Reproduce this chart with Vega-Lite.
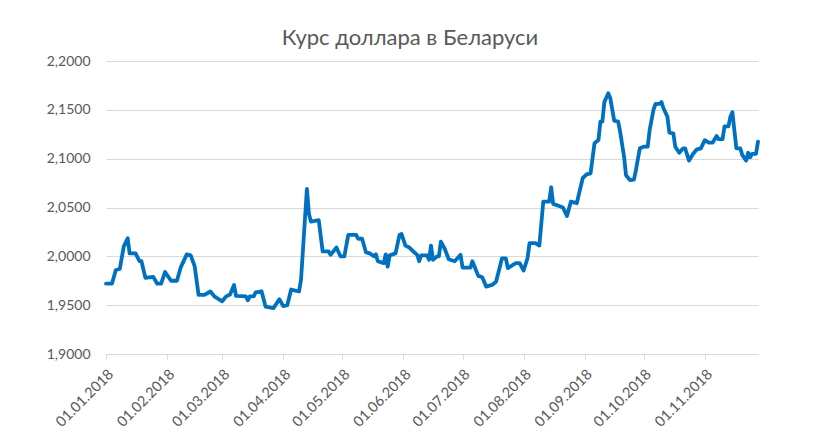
{
  "$schema": "https://vega.github.io/schema/vega-lite/v6.json",
  "autosize": {"type": "none"},
  "width": 652,
  "height": 293,
  "padding": {"left": 106, "top": 61, "right": 62, "bottom": 86},
  "background": "white",
  "title": {
    "text": "Курс доллара в Беларуси",
    "anchor": "middle",
    "frame": "group",
    "dx": -22,
    "dy": 31,
    "offset": 18,
    "baseline": "alphabetic",
    "font": "Lato",
    "fontSize": 22,
    "fontWeight": "normal",
    "color": "#595959"
  },
  "data": {
    "values": [
      {"date": "2018-01-01", "rate": 1.972},
      {"date": "2018-01-04", "rate": 1.972},
      {"date": "2018-01-06", "rate": 1.986},
      {"date": "2018-01-08", "rate": 1.987},
      {"date": "2018-01-10", "rate": 2.010},
      {"date": "2018-01-12", "rate": 2.0185},
      {"date": "2018-01-13", "rate": 2.003},
      {"date": "2018-01-16", "rate": 2.003},
      {"date": "2018-01-18", "rate": 1.995},
      {"date": "2018-01-19", "rate": 1.995},
      {"date": "2018-01-21", "rate": 1.978},
      {"date": "2018-01-25", "rate": 1.979},
      {"date": "2018-01-27", "rate": 1.972},
      {"date": "2018-01-29", "rate": 1.972},
      {"date": "2018-01-31", "rate": 1.984},
      {"date": "2018-02-03", "rate": 1.975},
      {"date": "2018-02-06", "rate": 1.975},
      {"date": "2018-02-08", "rate": 1.989},
      {"date": "2018-02-11", "rate": 2.002},
      {"date": "2018-02-13", "rate": 2.001},
      {"date": "2018-02-15", "rate": 1.990},
      {"date": "2018-02-17", "rate": 1.9605},
      {"date": "2018-02-20", "rate": 1.9605},
      {"date": "2018-02-23", "rate": 1.964},
      {"date": "2018-02-25", "rate": 1.959},
      {"date": "2018-03-01", "rate": 1.954},
      {"date": "2018-03-03", "rate": 1.959},
      {"date": "2018-03-05", "rate": 1.961},
      {"date": "2018-03-07", "rate": 1.9707},
      {"date": "2018-03-08", "rate": 1.9595},
      {"date": "2018-03-13", "rate": 1.959},
      {"date": "2018-03-14", "rate": 1.955},
      {"date": "2018-03-15", "rate": 1.959},
      {"date": "2018-03-17", "rate": 1.959},
      {"date": "2018-03-18", "rate": 1.963},
      {"date": "2018-03-21", "rate": 1.964},
      {"date": "2018-03-23", "rate": 1.9485},
      {"date": "2018-03-27", "rate": 1.947},
      {"date": "2018-03-30", "rate": 1.956},
      {"date": "2018-04-01", "rate": 1.949},
      {"date": "2018-04-03", "rate": 1.950},
      {"date": "2018-04-05", "rate": 1.966},
      {"date": "2018-04-09", "rate": 1.964},
      {"date": "2018-04-10", "rate": 1.976},
      {"date": "2018-04-13", "rate": 2.069},
      {"date": "2018-04-14", "rate": 2.044},
      {"date": "2018-04-15", "rate": 2.0355},
      {"date": "2018-04-19", "rate": 2.037},
      {"date": "2018-04-21", "rate": 2.005},
      {"date": "2018-04-24", "rate": 2.005},
      {"date": "2018-04-25", "rate": 2.0015},
      {"date": "2018-04-28", "rate": 2.009},
      {"date": "2018-04-30", "rate": 2.000},
      {"date": "2018-05-02", "rate": 2.000},
      {"date": "2018-05-04", "rate": 2.022},
      {"date": "2018-05-08", "rate": 2.022},
      {"date": "2018-05-09", "rate": 2.018},
      {"date": "2018-05-11", "rate": 2.018},
      {"date": "2018-05-13", "rate": 2.004},
      {"date": "2018-05-15", "rate": 2.003},
      {"date": "2018-05-17", "rate": 2.000},
      {"date": "2018-05-18", "rate": 2.002},
      {"date": "2018-05-19", "rate": 1.995},
      {"date": "2018-05-22", "rate": 1.993},
      {"date": "2018-05-23", "rate": 2.002},
      {"date": "2018-05-24", "rate": 1.9895},
      {"date": "2018-05-25", "rate": 2.001},
      {"date": "2018-05-28", "rate": 2.003},
      {"date": "2018-05-30", "rate": 2.022},
      {"date": "2018-05-31", "rate": 2.023},
      {"date": "2018-06-02", "rate": 2.011},
      {"date": "2018-06-04", "rate": 2.009},
      {"date": "2018-06-06", "rate": 2.005},
      {"date": "2018-06-08", "rate": 2.0015},
      {"date": "2018-06-09", "rate": 1.995},
      {"date": "2018-06-10", "rate": 2.001},
      {"date": "2018-06-13", "rate": 2.001},
      {"date": "2018-06-14", "rate": 1.9965},
      {"date": "2018-06-15", "rate": 2.011},
      {"date": "2018-06-16", "rate": 1.9965},
      {"date": "2018-06-18", "rate": 2.000},
      {"date": "2018-06-19", "rate": 2.000},
      {"date": "2018-06-20", "rate": 2.015},
      {"date": "2018-06-22", "rate": 2.0075},
      {"date": "2018-06-24", "rate": 1.997},
      {"date": "2018-06-27", "rate": 1.995},
      {"date": "2018-06-30", "rate": 2.0015},
      {"date": "2018-07-01", "rate": 1.9885},
      {"date": "2018-07-05", "rate": 1.9885},
      {"date": "2018-07-06", "rate": 1.995},
      {"date": "2018-07-09", "rate": 1.980},
      {"date": "2018-07-11", "rate": 1.9785},
      {"date": "2018-07-13", "rate": 1.969},
      {"date": "2018-07-16", "rate": 1.9707},
      {"date": "2018-07-18", "rate": 1.974},
      {"date": "2018-07-20", "rate": 1.9895},
      {"date": "2018-07-21", "rate": 1.998},
      {"date": "2018-07-23", "rate": 1.998},
      {"date": "2018-07-24", "rate": 1.988},
      {"date": "2018-07-28", "rate": 1.993},
      {"date": "2018-07-30", "rate": 1.993},
      {"date": "2018-08-01", "rate": 1.9855},
      {"date": "2018-08-03", "rate": 1.998},
      {"date": "2018-08-04", "rate": 2.0135},
      {"date": "2018-08-07", "rate": 2.0135},
      {"date": "2018-08-09", "rate": 2.011},
      {"date": "2018-08-11", "rate": 2.056},
      {"date": "2018-08-14", "rate": 2.056},
      {"date": "2018-08-15", "rate": 2.0707},
      {"date": "2018-08-16", "rate": 2.0537},
      {"date": "2018-08-19", "rate": 2.0516},
      {"date": "2018-08-21", "rate": 2.050},
      {"date": "2018-08-23", "rate": 2.0413},
      {"date": "2018-08-25", "rate": 2.056},
      {"date": "2018-08-28", "rate": 2.0544},
      {"date": "2018-08-31", "rate": 2.080},
      {"date": "2018-09-02", "rate": 2.084},
      {"date": "2018-09-04", "rate": 2.085},
      {"date": "2018-09-06", "rate": 2.1158},
      {"date": "2018-09-08", "rate": 2.119},
      {"date": "2018-09-09", "rate": 2.138},
      {"date": "2018-09-10", "rate": 2.138},
      {"date": "2018-09-11", "rate": 2.158},
      {"date": "2018-09-13", "rate": 2.167},
      {"date": "2018-09-14", "rate": 2.162},
      {"date": "2018-09-16", "rate": 2.139},
      {"date": "2018-09-18", "rate": 2.138},
      {"date": "2018-09-19", "rate": 2.1277},
      {"date": "2018-09-21", "rate": 2.102},
      {"date": "2018-09-22", "rate": 2.083},
      {"date": "2018-09-24", "rate": 2.078},
      {"date": "2018-09-26", "rate": 2.0785},
      {"date": "2018-09-27", "rate": 2.088},
      {"date": "2018-09-29", "rate": 2.1106},
      {"date": "2018-10-01", "rate": 2.1123},
      {"date": "2018-10-03", "rate": 2.1123},
      {"date": "2018-10-04", "rate": 2.1294},
      {"date": "2018-10-06", "rate": 2.1506},
      {"date": "2018-10-07", "rate": 2.156},
      {"date": "2018-10-09", "rate": 2.156},
      {"date": "2018-10-10", "rate": 2.158},
      {"date": "2018-10-11", "rate": 2.1516},
      {"date": "2018-10-13", "rate": 2.143},
      {"date": "2018-10-14", "rate": 2.1267},
      {"date": "2018-10-16", "rate": 2.126},
      {"date": "2018-10-17", "rate": 2.1123},
      {"date": "2018-10-19", "rate": 2.106},
      {"date": "2018-10-21", "rate": 2.1106},
      {"date": "2018-10-22", "rate": 2.1106},
      {"date": "2018-10-24", "rate": 2.098},
      {"date": "2018-10-26", "rate": 2.1048},
      {"date": "2018-10-28", "rate": 2.1096},
      {"date": "2018-10-30", "rate": 2.1106},
      {"date": "2018-11-01", "rate": 2.119},
      {"date": "2018-11-03", "rate": 2.1165},
      {"date": "2018-11-05", "rate": 2.1165},
      {"date": "2018-11-07", "rate": 2.1232},
      {"date": "2018-11-08", "rate": 2.120},
      {"date": "2018-11-10", "rate": 2.120},
      {"date": "2018-11-11", "rate": 2.133},
      {"date": "2018-11-13", "rate": 2.133},
      {"date": "2018-11-14", "rate": 2.143},
      {"date": "2018-11-15", "rate": 2.1475},
      {"date": "2018-11-17", "rate": 2.1106},
      {"date": "2018-11-19", "rate": 2.1106},
      {"date": "2018-11-20", "rate": 2.1038},
      {"date": "2018-11-22", "rate": 2.098},
      {"date": "2018-11-23", "rate": 2.106},
      {"date": "2018-11-24", "rate": 2.1014},
      {"date": "2018-11-25", "rate": 2.105},
      {"date": "2018-11-27", "rate": 2.105},
      {"date": "2018-11-28", "rate": 2.1175}
    ]
  },
  "mark": {
    "type": "line",
    "color": "#0070C0",
    "strokeWidth": 3.8,
    "strokeJoin": "round",
    "strokeCap": "round",
    "clip": false
  },
  "encoding": {
    "x": {
      "field": "date",
      "type": "temporal",
      "scale": {
        "type": "utc",
        "nice": false,
        "domain": [
          {"year": 2018, "month": 1, "date": 1, "utc": true},
          {"year": 2018, "month": 11, "date": 28, "utc": true}
        ]
      },
      "axis": {
        "title": null,
        "labelExpr": "utcFormat(datum.value, '%d.%m.%Y')",
        "tickCount": {"interval": "month", "step": 1},
        "grid": false,
        "domainColor": "#d9d9d9",
        "tickColor": "#d9d9d9",
        "tickSize": 5,
        "labelAngle": -45,
        "labelFont": "Lato",
        "labelFontSize": 14.5,
        "labelColor": "#595959",
        "labelPadding": 8,
        "labelOverlap": false
      }
    },
    "y": {
      "field": "rate",
      "type": "quantitative",
      "scale": {"domain": [1.9, 2.2], "nice": false, "zero": false},
      "axis": {
        "title": null,
        "values": [1.9, 1.95, 2.0, 2.05, 2.1, 2.15, 2.2],
        "labelExpr": "replace(format(datum.value, '.4f'), '.', ',')",
        "domain": false,
        "ticks": false,
        "grid": true,
        "gridColor": "#d9d9d9",
        "gridWidth": 1,
        "labelFont": "Lato",
        "labelFontSize": 14,
        "labelColor": "#595959",
        "labelPadding": 16
      }
    }
  },
  "config": {
    "view": {"stroke": null}
  }
}
